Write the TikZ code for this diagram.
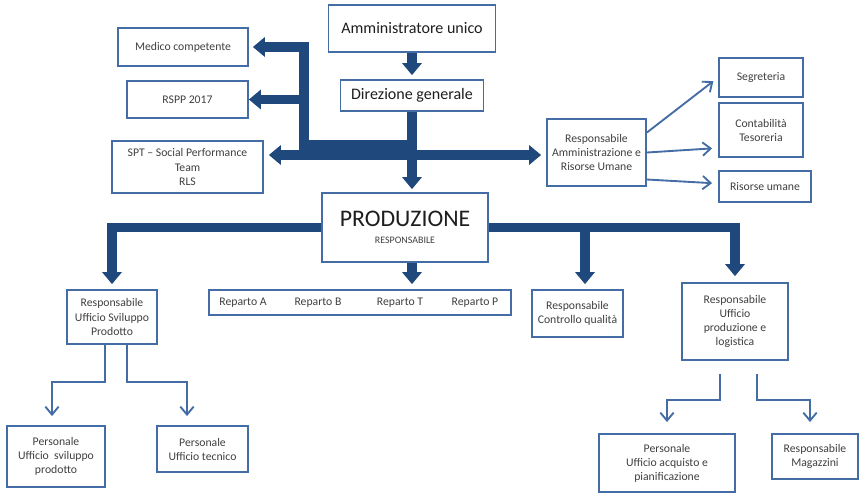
\documentclass[tikz,border=0pt]{standalone}
\usepackage{fontspec}
\setmainfont{Carlito}
\usepackage{tikz}
\usetikzlibrary{arrows.meta,calc}
\definecolor{boxblue}{RGB}{68,108,165}
\definecolor{navy}{RGB}{31,73,125}
\definecolor{txtgray}{RGB}{64,64,64}
\definecolor{txtdark}{RGB}{30,30,30}
\tikzset{fat/.tip={Triangle[width=0.6cm,length=0.36cm,line width=0pt]}}
\tikzset{barb/.tip={Straight Barb[width=0.4cm,length=0.24cm]}}
\begin{document}
\begin{tikzpicture}[x=0.03cm,y=-0.03cm,
    box/.style={draw=boxblue,line width=1.6pt,fill=white,align=center,text=txtgray,
      font=\fontsize{10}{12}\selectfont,inner sep=1pt},
    bigbox/.style={box,text=txtdark,font=\fontsize{13.7}{16}\selectfont},
    reptext/.style={text=txtgray,font=\fontsize{10}{12}\selectfont,inner sep=0pt},
    fatline/.style={draw=navy,line width=0.28cm},
    fatarrow/.style={fatline,-fat},
    thinarrow/.style={draw=boxblue,line width=1.6pt,-barb}]
      \useasboundingbox (0,0) rectangle (863,495);

      \node[bigbox,minimum width=5.01cm,minimum height=1.41cm](amm) at (412,28.5){Amministratore unico};
      \node[bigbox,minimum width=4.29cm,minimum height=0.93cm](dir) at (412,95.5){Direzione generale};
      \node[box,minimum width=3.9cm,minimum height=1.14cm](medico) at (183,47){Medico competente};
      \node[box,minimum width=3.63cm,minimum height=1.11cm](rspp) at (187.5,99.5){RSPP 2017};
      \node[box,minimum width=4.53cm,minimum height=1.56cm](spt) at (187.5,167){SPT -- Social Performance\\Team\\RLS};
      \node[box,minimum width=2.97cm,minimum height=2.01cm](ram) at (596.5,152.5){Responsabile\\Amministrazione e\\Risorse Umane};
      \node[box,minimum width=2.52cm,minimum height=1.17cm](seg) at (761,77.5){Segreteria};
      \node[box,minimum width=2.52cm,minimum height=1.62cm](cont) at (761,130){Contabilità\\Tesoreria};
      \node[box,minimum width=2.76cm,minimum height=0.93cm](risu) at (765,186.5){Risorse umane};

      \node[box,minimum width=4.98cm,minimum height=2.07cm](prod) at (405,227.5)
        {{\fontsize{20.3}{22}\selectfont\color{txtdark}PRODUZIONE}\\[2pt]{\fontsize{8.5}{10}\selectfont RESPONSABILE}};
      \node[box,minimum width=2.7cm,minimum height=1.62cm](usp) at (112,317){Responsabile\\Ufficio Sviluppo\\Prodotto};
      \node[box,minimum width=9.06cm,minimum height=0.75cm](rep) at (360,302.5){};
      \node[reptext](repA) at (243,302.5){Reparto A};
      \node[reptext](repB) at (318,302.5){Reparto B};
      \node[reptext](repT) at (400,302.5){Reparto T};
      \node[reptext](repP) at (475,302.5){Reparto P};
      \node[box,minimum width=2.73cm,minimum height=1.41cm](cq) at (577.5,313.5){Responsabile\\Controllo qualità};
      \node[box,minimum width=3.18cm,minimum height=2.31cm](upl) at (735,321.5){Responsabile\\Ufficio\\produzione e\\logistica};

      \node[box,minimum width=2.94cm,minimum height=1.83cm](pusp) at (56,456.5){Personale\\Ufficio\ \ sviluppo\\prodotto};
      \node[box,minimum width=2.73cm,minimum height=1.38cm](ptec) at (202.5,449){Personale\\Ufficio tecnico};
      \node[box,minimum width=4.08cm,minimum height=1.74cm](pacq) at (667,463){Personale\\Ufficio acquisto e\\pianificazione};
      \node[box,minimum width=2.58cm,minimum height=1.35cm](mag) at (815,456.5){Responsabile\\Magazzini};

      \coordinate(j1) at (412,145);
      \coordinate(j2) at (412,155);
      \coordinate(k0) at (304,47);
      \coordinate(b3) at (585,227.5);
      \coordinate(k1) at (52,382);
      \coordinate(k2) at (187,382);
      \coordinate(k3) at (667,400);
      \coordinate(k4) at (810,400);

      \draw[fatarrow,shorten >=0.12cm] (amm.south) -- (dir.north);
      \draw[fatarrow,shorten >=0.09cm] (dir.south) -- (dir.south |- prod.north);
      \draw[fatarrow,shorten >=0.12cm] (j1) -| (k0) -- (medico.east);
      \draw[fatarrow] (k0 |- rspp.east) -- (rspp.east);
      \draw[fatline,fat-fat,shorten <=0.15cm,shorten >=0.15cm] (spt.east |- j2) -- (ram.west |- j2);

      \draw[fatarrow,shorten >=0.15cm] (prod.west) -| (usp.north);
      \draw[fatarrow,shorten >=0.18cm] (prod.east) -| (upl.north);
      \draw[fatarrow,shorten >=0.15cm] (b3) -- (b3 |- cq.north);
      \draw[fatarrow,shorten >=0.15cm] (prod.south -| j1) -- (rep.north -| j1);

      \draw[thinarrow,shorten >=0.18cm] ($(ram.east)+(0,-20)$) -- (seg.west);
      \draw[thinarrow,shorten >=0.18cm] (ram.east) -- ($(cont.west)+(0,18)$);
      \draw[thinarrow,shorten >=0.18cm] ($(ram.east)+(0,27)$) -- ($(risu.west)+(0,-3)$);

      \draw[thinarrow,shorten >=0.27cm] ($(usp.south)+(-7,0)$) |- (k1) -- (k1 |- pusp.north);
      \draw[thinarrow,shorten >=0.27cm] ($(usp.south)+(15,0)$) |- (k2) -- (k2 |- ptec.north);
      \draw[thinarrow,shorten >=0.33cm] ($(upl.south)+(-15,13)$) |- (k3) -- (k3 |- pacq.north);
      \draw[thinarrow,shorten >=0.33cm] ($(upl.south)+(22,13)$) |- (k4) -- (k4 |- mag.north);
    \end{tikzpicture}
\end{document}
